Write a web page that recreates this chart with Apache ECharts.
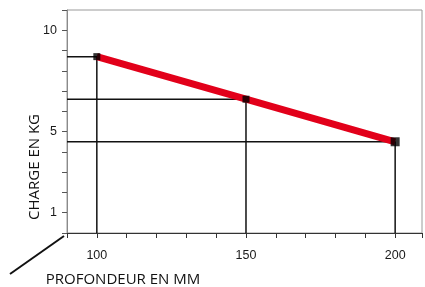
<!DOCTYPE html>
<html>
<head>
<meta charset="utf-8">
<script src="https://cdn.jsdelivr.net/npm/echarts@6/dist/echarts.min.js"></script>
<style>
  html, body { margin: 0; padding: 0; background: #fff; }
  #chart { width: 425px; height: 287px; }
</style>
</head>
<body>
<div id="chart"></div>
<script>
// profondeur (mm) et charge (kg)
const depths = [100, 150, 200]
const loads = [8.7, 6.6, 4.5]
const yLabels = [1, 5, 10]
const xLabels = [100, 150, 200]
const markerSizes = [7, 7, 9]

const X_MIN = 90
const X_MAX = 209
const Y_MIN = 0
const Y_MAX = 11

const chart = echarts.init(document.getElementById('chart'))

// lignes de rappel : axe Y -> point -> axe X
const guideSeries = depths.map((d, i) => ({
  type: 'line',
  data: [[X_MIN, loads[i]], [d, loads[i]], [d, Y_MIN]],
  symbol: 'none',
  silent: true,
  lineStyle: { color: '#111', width: 1.5 },
  z: 2
}))

const option = {
  animation: false,
  grid: {
    left: 67,
    top: 10,
    right: 2,
    bottom: 54,
    show: true,
    borderColor: '#9a9a9a',
    borderWidth: 1
  },
  xAxis: {
    type: 'value',
    min: X_MIN,
    max: X_MAX,
    interval: 10,
    splitLine: { show: false },
    axisLine: { lineStyle: { color: '#333', width: 1 } },
    axisTick: { show: true, length: 5, lineStyle: { color: '#333' } },
    axisLabel: {
      color: '#1a1a1a',
      fontFamily: 'Liberation Sans',
      fontSize: 12.5,
      margin: 16,
      formatter: v => xLabels.includes(v) ? String(v) : ''
    }
  },
  yAxis: {
    type: 'value',
    min: Y_MIN,
    max: Y_MAX,
    interval: 1,
    splitLine: { show: false },
    axisLine: { show: true, lineStyle: { color: '#8a8a8a', width: 1 } },
    axisTick: { show: true, length: 5, lineStyle: { color: '#555' } },
    axisLabel: {
      color: '#1a1a1a',
      fontFamily: 'Liberation Sans',
      fontSize: 12.5,
      margin: 10,
      formatter: v => yLabels.includes(v) ? String(v) : ''
    }
  },
  series: [
    ...guideSeries,
    {
      type: 'line',
      data: depths.map((d, i) => [d, loads[i]]),
      symbol: 'none',
      lineStyle: { color: '#e2001a', width: 7 },
      z: 3
    },
    {
      type: 'scatter',
      data: depths.map((d, i) => ({ value: [d, loads[i]], symbolSize: markerSizes[i] })),
      symbol: 'rect',
      itemStyle: { color: '#000' },
      z: 4
    }
  ],
  graphic: [
    {
      type: 'line',
      shape: { x1: 10, y1: 274, x2: 64, y2: 236 },
      style: { stroke: '#111', lineWidth: 2 }
    },
    {
      type: 'text',
      x: 35,
      y: 167,
      rotation: Math.PI / 2,
      style: {
        text: 'CHARGE EN KG',
        fill: '#111',
        font: '15px "Open Sans"',
        align: 'center',
        verticalAlign: 'middle'
      }
    },
    {
      type: 'text',
      x: 123,
      y: 280,
      style: {
        text: 'PROFONDEUR EN MM',
        fill: '#111',
        font: '15px "Open Sans"',
        align: 'center',
        verticalAlign: 'middle'
      }
    }
  ]
}

chart.setOption(option)
</script>
</body>
</html>
